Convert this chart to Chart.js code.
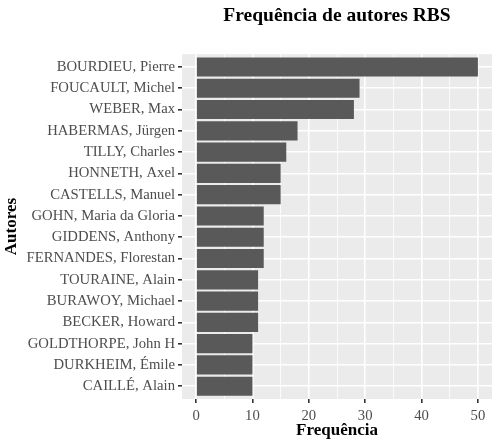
<!DOCTYPE html>
<html>
<head>
<meta charset="utf-8">
<script src="https://cdn.jsdelivr.net/npm/chart.js@4/dist/chart.umd.min.js"></script>
<style>
html,body{margin:0;padding:0;background:#fff;}
#wrap{width:500px;height:447px;position:relative;}
</style>
</head>
<body>
<div id="wrap"><canvas id="c" width="500" height="447"></canvas></div>
<script>
const authors = [
  "BOURDIEU, Pierre","FOUCAULT, Michel","WEBER, Max","HABERMAS, Jürgen",
  "TILLY, Charles","HONNETH, Axel","CASTELLS, Manuel","GOHN, Maria da Gloria",
  "GIDDENS, Anthony","FERNANDES, Florestan","TOURAINE, Alain","BURAWOY, Michael",
  "BECKER, Howard","GOLDTHORPE, John H","DURKHEIM, Émile","CAILLÉ, Alain"
];
const counts = [50, 29, 28, 18, 16, 15, 15, 12, 12, 12, 11, 11, 11, 10, 10, 10];
const xTicks = [0, 5, 10, 15, 20, 25, 30, 35, 40, 45, 50];
const xMajor = [0, 10, 20, 30, 40, 50];
const chartTitle = 'Frequência de autores RBS';

const FONT = "'Liberation Serif', 'Times New Roman', serif";

const panelBg = {
  id: 'panelBg',
  beforeDraw(chart) {
    const a = chart.chartArea, ctx = chart.ctx;
    ctx.save();
    ctx.fillStyle = '#ebebeb';
    ctx.fillRect(a.left, a.top, a.right - a.left, a.bottom - a.top);
    ctx.restore();
  },
  afterDraw(chart) {
    const a = chart.chartArea, ctx = chart.ctx;
    ctx.save();
    ctx.fillStyle = '#000';
    ctx.font = "bold 19.5px " + FONT;
    ctx.textAlign = 'center';
    ctx.textBaseline = 'middle';
    ctx.fillText(chartTitle, (a.left + a.right) / 2, 16);
    ctx.restore();
  }
};

new Chart(document.getElementById('c'), {
  type: 'bar',
  data: {
    datasets: [{
      data: authors.map((a, i) => ({ x: counts[i], y: i })),
      backgroundColor: '#595959',
      borderWidth: 0,
      barPercentage: 0.9,
      categoryPercentage: 1.0
    }]
  },
  options: {
    indexAxis: 'y',
    responsive: false,
    animation: false,
    layout: { padding: { left: 0, right: 8, top: 54.2, bottom: 0 } },
    plugins: {
      legend: { display: false },
      tooltip: { enabled: false },
      title: { display: false }
    },
    scales: {
      y: {
        type: 'linear',
        reverse: true,
        offset: false,
        min: -0.6,
        max: authors.length - 1 + 0.6,
        afterBuildTicks(scale) { scale.ticks = authors.map((a, i) => ({ value: i })); },
        afterFit(scale) { scale.width = 182; },
        ticks: {
          callback: (v) => authors[v],
          color: '#4d4d4d',
          font: { family: FONT, size: 14.7 },
          padding: 3,
          autoSkip: false
        },
        grid: { offset: false, color: '#ffffff', lineWidth: 1.6, tickColor: '#333333', tickLength: 4 },
        border: { display: false },
        title: {
          display: true, text: 'Autores', color: '#000',
          font: { family: FONT, size: 17, weight: 'bold', lineHeight: 1 },
          padding: { top: 3.5, bottom: 0 }
        }
      },
      x: {
        type: 'linear',
        min: -2.5,
        max: 52.5,
        afterBuildTicks(scale) { scale.ticks = xTicks.map(v => ({ value: v })); },
        afterFit(scale) { scale.height = 48; },
        ticks: {
          callback: (v) => (xMajor.includes(v) ? String(v) : ''),
          color: '#4d4d4d',
          font: { family: FONT, size: 14.7 },
          padding: 4,
          maxRotation: 0,
          autoSkip: false
        },
        grid: {
          color: '#ffffff',
          lineWidth: (ctx) => (ctx.tick && xMajor.includes(ctx.tick.value) ? 1.6 : 0.8),
          tickColor: (ctx) => (ctx.tick && xMajor.includes(ctx.tick.value) ? '#333333' : 'rgba(0,0,0,0)'),
          tickLength: 4
        },
        border: { display: false },
        title: {
          display: true, text: 'Frequência', color: '#000',
          font: { family: FONT, size: 17, weight: 'bold', lineHeight: 1 },
          padding: { top: 0, bottom: 7.8 }
        }
      }
    }
  },
  plugins: [panelBg]
});
</script>
</body>
</html>
